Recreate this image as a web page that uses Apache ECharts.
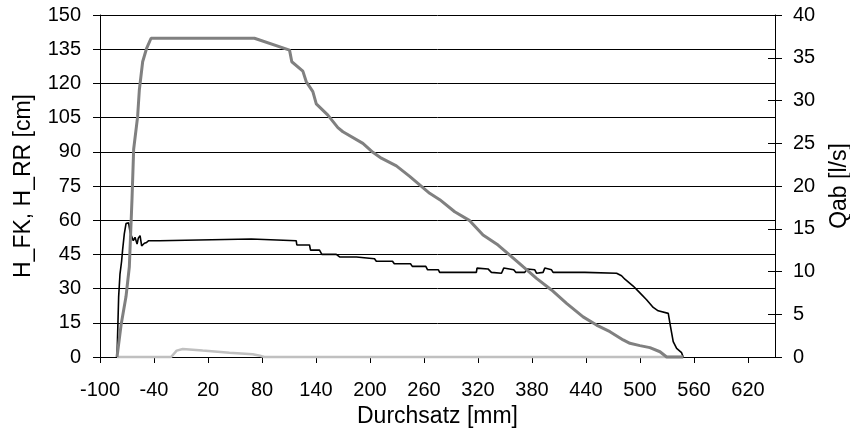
<!DOCTYPE html>
<html>
<head>
<meta charset="utf-8">
<script src="https://cdn.jsdelivr.net/npm/echarts@6/dist/echarts.min.js"></script>
<style>
  html, body { margin: 0; padding: 0; background: #fff; }
  #chart { width: 850px; height: 441px; }
</style>
</head>
<body>
<div id="chart"></div>
<script>
// Durchsatz [mm] vs. water levels (left axis) and discharge (right axis)
const xTicks = { min: -100, max: 650, step: 60 };
const leftTicks = { min: 0, max: 150, step: 15 };
const rightTicks = { min: 0, max: 40, step: 5 };

// H_FK [cm]
const hFK = [
  [-81.1, 0], [-76.6, 14.0], [-71.1, 26.5], [-67.4, 39.6], [-64.4, 69.7], [-62.6, 91.1],
  [-58.2, 105.4], [-56.3, 117.1], [-52.6, 129.5], [-48.2, 135.4], [-43.3, 139.8],
  [71.6, 139.8], [110.6, 134.6], [113.1, 129.5], [125.4, 125.4], [129.1, 120.8],
  [136.5, 116.4], [140.3, 111.0], [153.2, 106.1], [164.3, 100.6], [169.9, 98.8],
  [192.1, 93.7], [203.2, 89.8], [212.6, 87.2], [229.3, 83.8], [244.1, 79.2],
  [255.2, 75.5], [266.3, 71.8], [277.5, 69.0], [294.1, 63.7], [310.8, 59.8],
  [325.6, 53.5], [342.3, 49.1], [355.3, 44.7], [370.1, 39.6], [385.0, 34.5],
  [401.7, 29.4], [418.4, 23.5], [436.8, 17.6], [451.7, 14.0], [466.6, 11.1],
  [481.3, 7.5], [488.8, 6.0], [499.9, 5.0], [511.0, 4.1], [522.2, 2.3],
  [529.6, 0], [548.0, 0]
];

// H_RR [cm]
const hRR = [
  [-81.1, 0], [-21.0, 0], [-14.8, 2.8], [-8.1, 3.5], [14.1, 2.8], [43.8, 1.9],
  [69.7, 1.2], [79.1, 0.4], [82.8, 0], [548.0, 0]
];

// Qab [l/s]
const qab = [
  [-81.1, 0], [-79.3, 7.0], [-77.8, 9.7], [-76.0, 11.2], [-74.9, 12.5], [-73.0, 14.4],
  [-71.1, 15.6], [-68.2, 15.7], [-66.6, 14.6], [-64.4, 14.4], [-63.0, 13.6], [-61.1, 14.0],
  [-58.8, 13.2], [-57.4, 13.9], [-55.5, 14.2], [-53.7, 13.0], [-50.7, 13.3], [-48.2, 13.4],
  [-45.9, 13.6], [-34.0, 13.6], [-32.1, 13.8], [68.0, 13.8], [69.1, 13.6], [118.0, 13.6],
  [118.7, 13.1], [132.8, 13.1], [133.9, 12.5], [143.9, 12.5], [146.5, 12.0], [162.5, 12.0],
  [166.2, 11.7], [185.0, 11.7], [187.0, 11.5], [205.0, 11.5], [207.0, 11.2], [225.0, 11.2],
  [227.0, 10.9], [245.0, 10.9], [247.0, 10.6], [262.0, 10.6], [264.0, 10.2], [276.0, 10.2],
  [277.4, 9.9], [318.2, 9.9], [318.9, 10.4], [331.1, 10.3], [334.9, 9.9], [346.1, 9.8],
  [348.6, 10.4], [359.7, 10.2], [362.0, 9.9], [372.0, 9.9], [374.5, 10.3], [383.1, 10.2],
  [385.0, 9.8], [392.3, 9.9], [394.2, 10.4], [401.7, 10.2], [403.4, 9.9], [438.7, 9.9],
  [439.8, 9.8], [474.0, 9.8], [479.5, 9.5], [483.2, 9.1], [492.4, 8.3], [499.9, 7.5],
  [507.3, 6.7], [514.7, 5.8], [520.2, 5.4], [531.4, 5.1], [534.0, 3.5], [536.9, 1.8],
  [540.7, 1.0], [546.2, 0.5], [548.0, 0]
];

const FONT = "'Liberation Sans', Arial, sans-serif";
const labelStyle = { color: '#000', fontFamily: FONT, fontSize: 20 };
const titleStyle = { color: '#000', fontFamily: FONT, fontSize: 23 };

const chart = echarts.init(document.getElementById('chart'), null, { renderer: 'canvas' });
chart.setOption({
  animation: false,
  backgroundColor: '#fff',
  grid: {
    left: 100, top: 15, width: 675, height: 342,
    containLabel: false, outerBoundsMode: 'none'
  },
  xAxis: {
    type: 'value', z: 0,
    min: xTicks.min, max: xTicks.max, interval: xTicks.step,
    name: 'Durchsatz [mm]', nameLocation: 'middle', nameGap: 45,
    nameTextStyle: titleStyle,
    axisLine: { onZero: false, lineStyle: { color: '#000', width: 1 } },
    axisTick: { inside: false, length: 6, lineStyle: { color: '#000' } },
    axisLabel: Object.assign({ margin: 23, showMaxLabel: false }, labelStyle),
    splitLine: { show: false }
  },
  yAxis: [
    {
      type: 'value', position: 'left', z: 0,
      min: leftTicks.min, max: leftTicks.max, interval: leftTicks.step,
      name: 'H_FK, H_RR [cm]', nameLocation: 'middle', nameGap: 65, nameRotate: 90,
      nameTextStyle: titleStyle,
      axisLine: { show: true, onZero: false, lineStyle: { color: '#000', width: 1 } },
      axisTick: { show: true, inside: false, length: 7, lineStyle: { color: '#000' } },
      axisLabel: Object.assign({ margin: 19 }, labelStyle),
      splitLine: { show: true, lineStyle: { color: '#000', width: 1 } }
    },
    {
      type: 'value', position: 'right', z: 0,
      min: rightTicks.min, max: rightTicks.max, interval: rightTicks.step,
      name: 'Qab [l/s]', nameLocation: 'middle', nameGap: 53, nameRotate: 90,
      nameTextStyle: titleStyle,
      axisLine: { show: true, onZero: false, lineStyle: { color: '#000', width: 1 } },
      axisTick: { show: true, inside: false, length: 7, lineStyle: { color: '#000' } },
      axisLabel: Object.assign({ margin: 18 }, labelStyle),
      splitLine: { show: false }
    },
    {
      // inner half of the crossing ticks on the right axis
      type: 'value', position: 'right', z: 0,
      min: rightTicks.min, max: rightTicks.max, interval: rightTicks.step,
      axisLine: { show: false, onZero: false },
      axisTick: { show: true, inside: true, length: 7, lineStyle: { color: '#000' } },
      axisLabel: { show: false },
      splitLine: { show: false }
    }
  ],
  series: [
    {
      name: 'Qab', type: 'line', yAxisIndex: 1, data: qab, clip: false,
      symbol: 'none', lineStyle: { color: '#000', width: 1.6 }, z: 5
    },
    {
      name: 'H_RR', type: 'line', yAxisIndex: 0, data: hRR, clip: false,
      symbol: 'none', lineStyle: { color: '#c0c0c0', width: 2.5 }, z: 6
    },
    {
      name: 'H_FK', type: 'line', yAxisIndex: 0, data: hFK, clip: false,
      symbol: 'none', lineStyle: { color: '#808080', width: 3 }, z: 7
    }
  ]
});
</script>
</body>
</html>
